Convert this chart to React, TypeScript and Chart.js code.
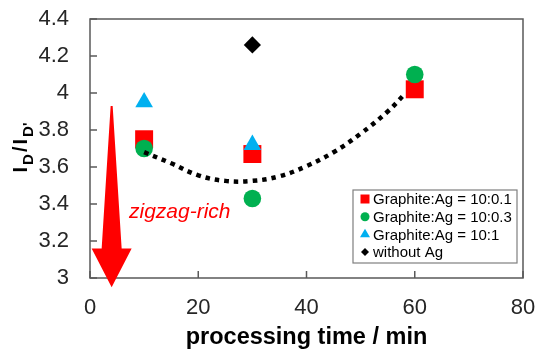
import React, { useEffect, useRef } from 'react';
import { Chart, registerables } from 'chart.js';

Chart.register(...registerables);

// ---- data ----
const xTicks = [0, 20, 40, 60, 80];
const yMin = 3;
const yMax = 4.4;
const yStep = 0.2;
const seriesLabels = ['Graphite:Ag = 10:0.1', 'Graphite:Ag = 10:0.3', 'Graphite:Ag = 10:1', 'without Ag'];
const seriesColors = ['#FF0000', '#00B050', '#00B0F0', '#000000'];
const seriesStyles = ['rect', 'circle', 'triangle', 'rectRot'];
const ag01X = [10, 30, 60];
const ag01Y = [3.75, 3.67, 4.02];
const ag03X = [10, 30, 60];
const ag03Y = [3.70, 3.43, 4.10];
const ag1X = [10, 30];
const ag1Y = [3.95, 3.72];
const noAgX = [30];
const noAgY = [4.26];
const trendX = [10, 15, 20, 25, 30, 35, 40, 45, 50, 55, 58];
const trendY = [3.68, 3.62, 3.555, 3.525, 3.525, 3.55, 3.605, 3.68, 3.78, 3.9, 3.99];
const arrowX = 4;
const arrowYTop = 3.93;
const arrowYHead = 3.16;
const arrowYTip = 2.95;
const noteText = 'zigzag-rich';
const noteX = 7.2;
const noteY = 3.324;
const xTitle = 'processing time / min';

const FONT = "'Liberation Sans', Arial, sans-serif";

const zip = (xs: number[], ys: number[]) => xs.map((x, i) => ({ x, y: ys[i] }));

function drawMarker(ctx: CanvasRenderingContext2D, style: string, x: number, y: number, s: number) {
  ctx.beginPath();
  if (style === 'rect') {
    ctx.rect(x - s / 2, y - s / 2, s, s);
  } else if (style === 'circle') {
    ctx.arc(x, y, s / 2, 0, Math.PI * 2);
  } else if (style === 'triangle') {
    const r = s / 1.732;
    ctx.moveTo(x, y - r);
    ctx.lineTo(x + s / 2, y + r / 2);
    ctx.lineTo(x - s / 2, y + r / 2);
    ctx.closePath();
  } else {
    const r = s / 2;
    ctx.moveTo(x - r, y);
    ctx.lineTo(x, y - r);
    ctx.lineTo(x + r, y);
    ctx.lineTo(x, y + r);
    ctx.closePath();
  }
  ctx.fill();
}

const decorPlugin = {
  id: 'decor',
  afterDraw(chart: any) {
    const { ctx, chartArea: a, scales } = chart;
    const xs = scales.x;
    const ys = scales.y;
    ctx.save();
    // frame
    ctx.strokeStyle = '#595959';
    ctx.lineWidth = 1.5;
    ctx.strokeRect(a.left, a.top, a.right - a.left, a.bottom - a.top);
    // inward ticks
    ctx.beginPath();
    xTicks.forEach((v) => {
      const px = xs.getPixelForValue(v);
      ctx.moveTo(px, a.bottom);
      ctx.lineTo(px, a.bottom - 7);
    });
    for (let v = yMin; v <= yMax + 1e-9; v += yStep) {
      const py = ys.getPixelForValue(v);
      ctx.moveTo(a.left, py);
      ctx.lineTo(a.left + 7, py);
    }
    ctx.stroke();

    // arrow
    const ax = xs.getPixelForValue(arrowX);
    const yTop = ys.getPixelForValue(arrowYTop);
    const yHead = ys.getPixelForValue(arrowYHead);
    const yTip = ys.getPixelForValue(arrowYTip);
    ctx.fillStyle = '#FF0000';
    ctx.beginPath();
    ctx.moveTo(ax - 1, yTop);
    ctx.lineTo(ax + 1, yTop);
    ctx.lineTo(ax + 10, yHead);
    ctx.lineTo(ax + 20, yHead);
    ctx.lineTo(ax, yTip);
    ctx.lineTo(ax - 20, yHead);
    ctx.lineTo(ax - 10, yHead);
    ctx.closePath();
    ctx.fill();

    // note text
    ctx.font = `italic 21px ${FONT}`;
    ctx.textAlign = 'left';
    ctx.textBaseline = 'alphabetic';
    ctx.fillText(noteText, xs.getPixelForValue(noteX), ys.getPixelForValue(noteY));

    // legend
    const bw = 164;
    const bh = 73;
    const bx = a.right - 6 - bw;
    const by = a.bottom - 15 - bh;
    ctx.fillStyle = '#ffffff';
    ctx.fillRect(bx, by, bw, bh);
    ctx.strokeStyle = '#7f7f7f';
    ctx.lineWidth = 1.2;
    ctx.strokeRect(bx, by, bw, bh);
    const sizes = [9, 9, 10, 8];
    ctx.font = `15px ${FONT}`;
    ctx.textBaseline = 'middle';
    seriesLabels.forEach((lab, i) => {
      const ry = by + 9 + i * 17.7;
      ctx.fillStyle = seriesColors[i];
      drawMarker(ctx, seriesStyles[i], bx + 12, ry, sizes[i]);
      ctx.fillStyle = '#000';
      ctx.fillText(lab, bx + 20, ry + 1);
    });

    // y title I_D/I_D'
    const parts: [string, boolean][] = [['I', false], ['D', true], ['/', false], ['I', false], ["D'", true]];
    const mainF = `bold 20px ${FONT}`;
    const subF = `bold 15px ${FONT}`;
    const gap = 2;
    let total = 0;
    parts.forEach(([t, sub]) => {
      ctx.font = sub ? subF : mainF;
      total += ctx.measureText(t).width + gap;
    });
    total -= gap;
    ctx.translate(27, (a.top + a.bottom) / 2 - 1);
    ctx.rotate(-Math.PI / 2);
    ctx.fillStyle = '#000';
    ctx.textAlign = 'left';
    ctx.textBaseline = 'alphabetic';
    let cx = -total / 2;
    parts.forEach(([t, sub]) => {
      ctx.font = sub ? subF : mainF;
      ctx.fillText(t, cx, sub ? 6 : 0);
      cx += ctx.measureText(t).width + gap;
    });
    ctx.restore();
  },
};

export default function App() {
  const ref = useRef<HTMLCanvasElement | null>(null);
  useEffect(() => {
    if (!ref.current) return;
    const tickFont = { family: FONT, size: 22 };
    const chart = new Chart(ref.current, {
      type: 'scatter',
      data: {
        datasets: [
          {
            label: 'trend',
            data: zip(trendX, trendY),
            showLine: true,
            tension: 0.4,
            borderColor: '#000',
            borderWidth: 4.5,
            borderDash: [4.5, 5],
            borderCapStyle: 'butt',
            pointRadius: 0,
            order: 0,
          },
          {
            label: seriesLabels[0],
            data: zip(ag01X, ag01Y),
            pointStyle: 'rect',
            pointRadius: 12.7,
            backgroundColor: seriesColors[0],
            borderWidth: 0,
            order: 3,
          },
          {
            label: seriesLabels[1],
            data: zip(ag03X, ag03Y),
            pointStyle: 'circle',
            pointRadius: 8.8,
            backgroundColor: seriesColors[1],
            borderWidth: 0,
            order: 2,
          },
          {
            label: seriesLabels[2],
            data: zip(ag1X, ag1Y),
            pointStyle: 'triangle',
            pointRadius: 10.2,
            backgroundColor: seriesColors[2],
            borderWidth: 0,
            order: 1,
          },
          {
            label: seriesLabels[3],
            data: zip(noAgX, noAgY),
            pointStyle: 'rectRot',
            pointRadius: 8.6,
            backgroundColor: seriesColors[3],
            borderWidth: 0,
            order: 4,
          },
        ] as any,
      },
      options: {
        animation: false,
        responsive: true,
        maintainAspectRatio: false,
        layout: { padding: { top: 19, right: 16, left: 0, bottom: 0 } },
        plugins: { legend: { display: false }, tooltip: { enabled: false } },
        scales: {
          x: {
            type: 'linear',
            min: 0,
            max: 80,
            afterBuildTicks: (s: any) => {
              s.ticks = xTicks.map((v) => ({ value: v }));
            },
            afterFit: (s: any) => {
              s.height = 71;
              s.paddingLeft = 0;
              s.paddingRight = 0;
            },
            grid: { display: false, drawTicks: false },
            border: { display: false },
            ticks: { padding: 17, font: tickFont, color: '#262626', maxRotation: 0, autoSkip: false },
            title: {
              display: true,
              text: xTitle,
              color: '#000',
              font: { family: FONT, size: 23.5, weight: 'bold', lineHeight: 1 },
              padding: 0,
            },
          },
          y: {
            type: 'linear',
            min: yMin,
            max: yMax,
            afterFit: (s: any) => {
              s.width = 90;
              s.paddingTop = 0;
              s.paddingBottom = 0;
            },
            grid: { display: false, drawTicks: false },
            border: { display: false },
            ticks: {
              stepSize: yStep,
              padding: 21,
              font: tickFont,
              color: '#262626',
              callback: (v: any) => `${Math.round(Number(v) * 10) / 10}`,
            },
          },
        },
      } as any,
      plugins: [decorPlugin],
    });
    return () => chart.destroy();
  }, []);
  return (
    <div style={{ position: 'fixed', left: 0, top: 0, width: 539, height: 349, background: '#fff' }}>
      <canvas ref={ref} />
    </div>
  );
}
